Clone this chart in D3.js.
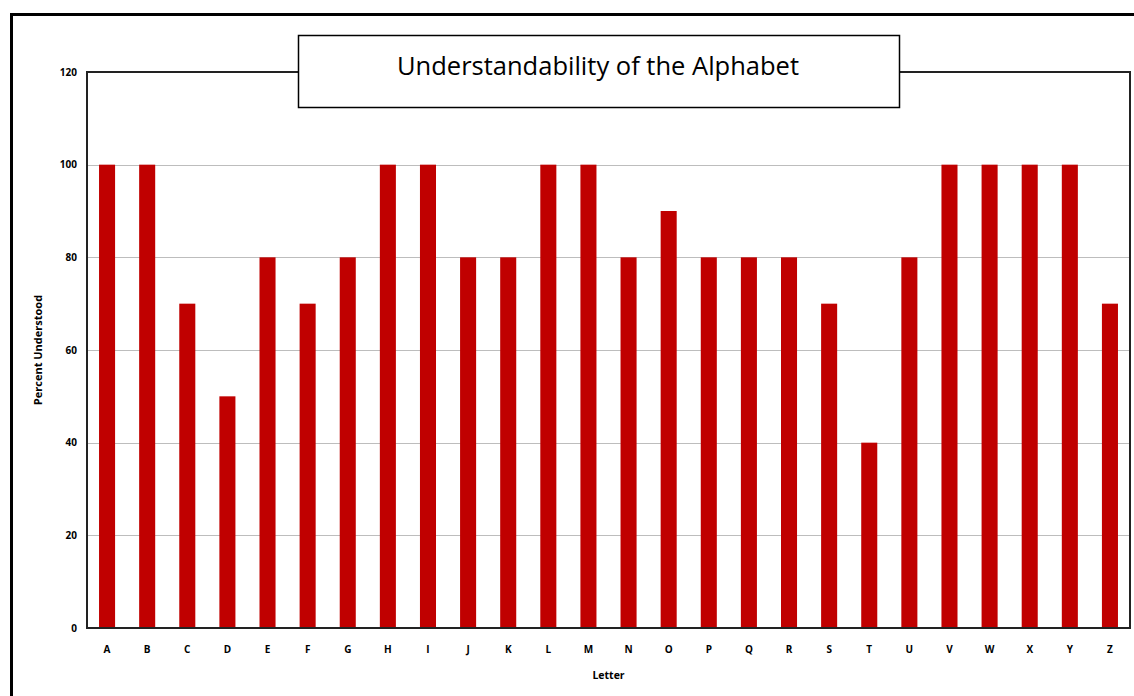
<!DOCTYPE html>
<html>
<head>
<meta charset="utf-8">
<script src="https://cdn.jsdelivr.net/npm/d3@7"></script>
<style>
  html, body { margin: 0; padding: 0; background: #fff; }
  svg { display: block; }
</style>
</head>
<body>
<svg id="chart" width="1134" height="696"></svg>
<script>
const letters = ["A","B","C","D","E","F","G","H","I","J","K","L","M","N","O","P","Q","R","S","T","U","V","W","X","Y","Z"];
const percentUnderstood = [100,100,70,50,80,70,80,100,100,80,80,100,100,80,90,80,80,80,70,40,80,100,100,100,100,70];
const yTicks = [0,20,40,60,80,100,120];
const titleText = "Understandability of the Alphabet";
const xTitle = "Letter";
const yTitle = "Percent Understood";

const svg = d3.select("#chart");
const W = 1134, H = 696;
const plot = { left: 87, top: 72, right: 1130, bottom: 628 };

// outer frame (extends beyond right/bottom edges)
svg.append("rect")
  .attr("x", 11.5).attr("y", 14.5)
  .attr("width", W + 20).attr("height", H + 20)
  .attr("fill", "#fff").attr("stroke", "#000").attr("stroke-width", 3);

const x = d3.scaleBand().domain(letters).range([plot.left, plot.right]).paddingInner(0.6).paddingOuter(0.3);
const y = d3.scaleLinear().domain([0, 120]).range([plot.bottom, plot.top]);

// gridlines
svg.append("g")
  .selectAll("line")
  .data(yTicks.filter(t => t > 0 && t < 120))
  .join("line")
  .attr("x1", plot.left).attr("x2", plot.right)
  .attr("y1", d => Math.round(y(d)) + 0.5).attr("y2", d => Math.round(y(d)) + 0.5)
  .attr("stroke", "#bdbdbd").attr("stroke-width", 1);

// bars
svg.append("g")
  .selectAll("rect")
  .data(letters.map((l, i) => ({ l, v: percentUnderstood[i] })))
  .join("rect")
  .attr("x", d => x(d.l))
  .attr("width", x.bandwidth())
  .attr("y", d => y(d.v))
  .attr("height", d => y(0) - y(d.v))
  .attr("fill", "#c00000");

// plot frame
svg.append("rect")
  .attr("x", plot.left).attr("y", plot.top)
  .attr("width", plot.right - plot.left).attr("height", plot.bottom - plot.top)
  .attr("fill", "none").attr("stroke", "#222").attr("stroke-width", 2);

// y axis
const yAxis = d3.axisLeft(y).tickValues(yTicks).tickSize(0).tickPadding(10);
const gy = svg.append("g").attr("transform", `translate(${plot.left},0)`).call(yAxis);
gy.select(".domain").remove();
gy.selectAll("text")
  .attr("font-family", "'Open Sans', 'DejaVu Sans', sans-serif")
  .attr("font-weight", "bold").attr("font-size", 10).attr("fill", "#000");

// x axis
const xAxis = d3.axisBottom(x).tickSize(0).tickPadding(18);
const gx = svg.append("g").attr("transform", `translate(0,${plot.bottom})`).call(xAxis);
gx.select(".domain").remove();
gx.selectAll("text")
  .attr("font-family", "'Open Sans', 'DejaVu Sans', sans-serif")
  .attr("font-weight", "bold").attr("font-size", 10).attr("fill", "#000");

// axis titles
svg.append("text")
  .attr("x", (plot.left + plot.right) / 2).attr("y", 679)
  .attr("text-anchor", "middle")
  .attr("font-family", "'Open Sans', 'DejaVu Sans', sans-serif")
  .attr("font-weight", "bold").attr("font-size", 10.5)
  .text(xTitle);

svg.append("text")
  .attr("transform", `translate(42,${(plot.top + plot.bottom) / 2}) rotate(-90)`)
  .attr("text-anchor", "middle")
  .attr("font-family", "'Open Sans', 'DejaVu Sans', sans-serif")
  .attr("font-weight", "bold").attr("font-size", 11)
  .text(yTitle);

// title box
svg.append("rect")
  .attr("x", 298.5).attr("y", 35.5).attr("width", 601).attr("height", 72)
  .attr("fill", "#fff").attr("stroke", "#000").attr("stroke-width", 1.5);
svg.append("text")
  .attr("x", 598).attr("y", 75)
  .attr("text-anchor", "middle")
  .attr("font-family", "'Open Sans', 'Noto Sans', sans-serif")
  .attr("font-size", 25.5)
  .attr("fill", "#000")
  .text(titleText);
</script>
</body>
</html>
